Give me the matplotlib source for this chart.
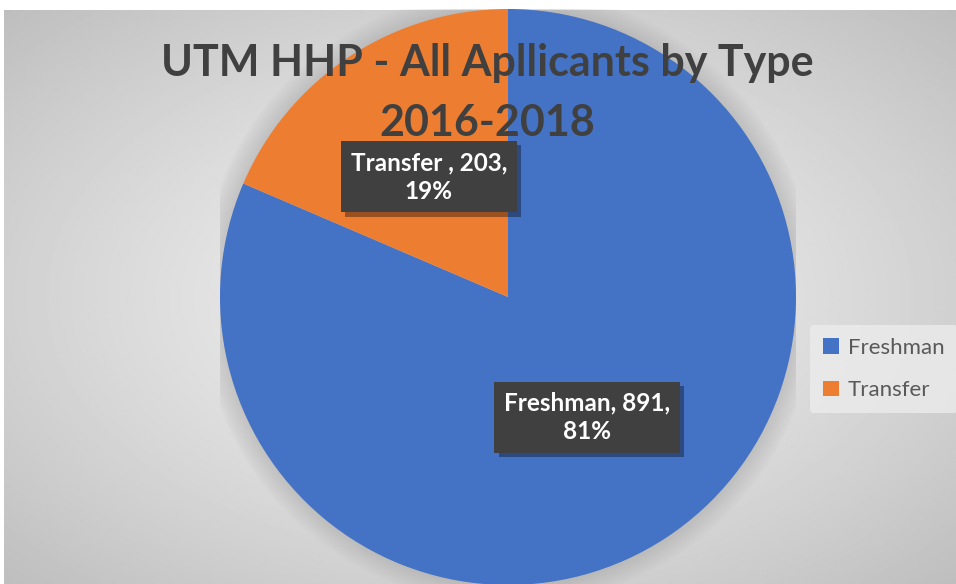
import numpy as np
import matplotlib.pyplot as plt
import matplotlib.patheffects as pe
from matplotlib.patches import Circle

categories = ['Freshman', 'Transfer']
counts = [891, 203]
colors = ['#4472C4', '#ED7D31']
title = 'UTM HHP - All Apllicants by Type\n2016-2018'
label_names = ['Freshman', 'Transfer ']

plt.rcParams['font.family'] = ['Lato', 'DejaVu Sans']

fig = plt.figure(figsize=(9.56, 5.84), dpi=100)
fig.patch.set_facecolor('white')

# gradient background (chart area)
bg = fig.add_axes([4 / 956, 0, 952 / 956, 574 / 584])
bg.set_axis_off()
yy, xx = np.mgrid[-1:1:300j, -1:1:500j]
r = np.sqrt(xx ** 2 + yy ** 2) / np.sqrt(2)
bg.imshow(0.945 - 0.2 * r ** 1.3, cmap='gray', vmin=0, vmax=1, aspect='auto',
          extent=[0, 1, 0, 1])

# pie axes
cx, cy, rad = 508, 297, 288
ax = fig.add_axes([(cx - rad) / 956, (584 - cy - rad) / 584,
                   2 * rad / 956, 2 * rad / 584])
ax.set_axis_off()

# soft shadow round the pie
for i in range(12):
    ax.add_patch(Circle((0, 0), 1 + 0.006 * (12 - i), color='#808080',
                        alpha=0.025, lw=0, zorder=0))

wedges, _ = ax.pie(counts, colors=colors, startangle=90, counterclock=False,
                   radius=1, wedgeprops=dict(linewidth=0))
ax.set_xlim(-1, 1)
ax.set_ylim(-1, 1)

total = sum(counts)
for w, name, n in zip(wedges, label_names, counts):
    ang = np.deg2rad((w.theta1 + w.theta2) / 2)
    t = ax.text(0.5 * np.cos(ang), 0.5 * np.sin(ang),
                f'{name}, {n},\n{round(100 * n / total)}%',
                ha='center', va='center', color='white', fontsize=17.5,
                fontweight='bold', linespacing=1.3, zorder=5,
                bbox=dict(boxstyle='square,pad=0.4', fc='#404040', ec='none'))
    t.get_bbox_patch().set_path_effects([
        pe.SimplePatchShadow(offset=(3, -3), shadow_rgbFace='black', alpha=0.35),
        pe.Normal()])

fig.text(487 / 956, 1 - 93 / 584, title, ha='center', va='center',
         fontsize=31, fontweight='bold', color='#404040', linespacing=1.6,
         zorder=10)

leg = fig.legend(wedges, categories, loc='center left',
                 bbox_to_anchor=(810 / 956, 1 - 369 / 584), frameon=True,
                 fontsize=16, handlelength=0.7, handleheight=0.7,
                 labelspacing=1.0, handletextpad=0.4, borderpad=0.6,
                 borderaxespad=0, labelcolor='#595959')
leg.get_frame().set_facecolor('#ECECEC')
leg.get_frame().set_edgecolor('none')
leg.get_frame().set_alpha(0.8)

fig.savefig('out.png', dpi=100)
